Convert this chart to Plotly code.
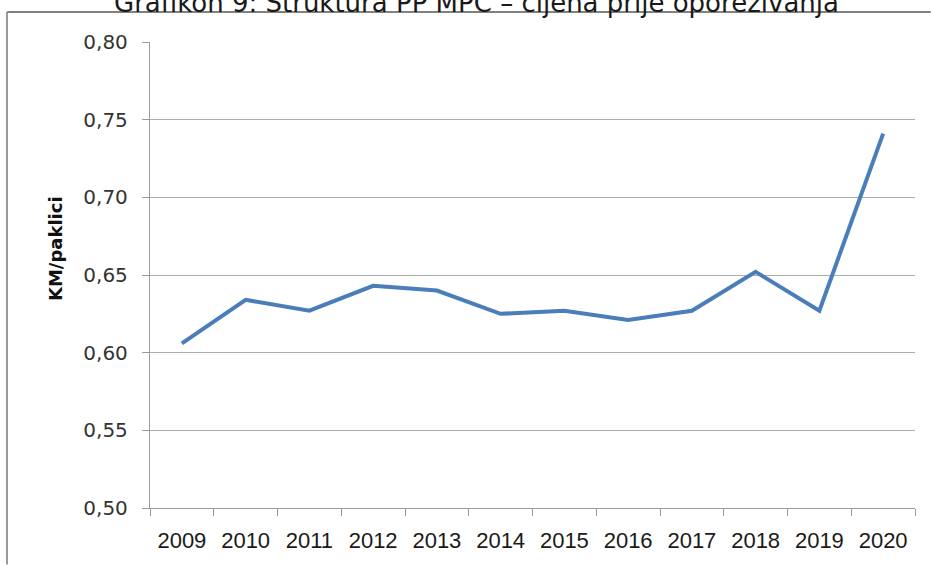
import plotly.graph_objects as go

years = ["2009", "2010", "2011", "2012", "2013", "2014", "2015", "2016", "2017", "2018", "2019", "2020"]
values = [0.606, 0.634, 0.627, 0.643, 0.640, 0.625, 0.627, 0.621, 0.627, 0.652, 0.627, 0.741]
y_ticks = [0.50, 0.55, 0.60, 0.65, 0.70, 0.75, 0.80]
title_text = "Grafikon 9: Struktura PP MPC – cijena prije oporezivanja"
y_title = "KM/paklici"

W, H = 933, 566
L, R, T, B = 150, 18, 42, 58
pw, ph = W - L - R, H - T - B

def px_x(x):
    return (x - L) / pw

def px_y(y):
    return (H - B - y) / ph

fig = go.Figure()
fig.add_trace(go.Scatter(
    x=years, y=values, mode="lines",
    line=dict(color="#4a7ebb", width=4),
    hoverinfo="x+y",
))

frame = dict(text="", xref="paper", yref="paper", showarrow=True, arrowhead=0,
             arrowwidth=1.5, arrowcolor="#7a7a7a", standoff=0, startstandoff=0,
             axref="pixel", ayref="pixel")

fig.update_layout(
    width=W, height=H,
    margin=dict(l=L, r=R, t=T, b=B, pad=0, autoexpand=False),
    paper_bgcolor="white", plot_bgcolor="white",
    separators=", ",
    showlegend=False,
    xaxis=dict(
        type="category",
        automargin=False,
        showgrid=False,
        showline=True, linecolor="#9a9a9a", linewidth=1.3,
        ticks="outside", tickson="boundaries", ticklen=7, tickcolor="#9a9a9a", tickwidth=1.3,
        tickangle=0,
        tickfont=dict(family="Liberation Sans, Arial, sans-serif", size=22, color="#1a1a1a"),
        ticklabelstandoff=12,
        range=[-0.5, 11.5],
    ),
    yaxis=dict(
        automargin=False,
        range=[0.5, 0.8],
        tickvals=y_ticks,
        tickformat=".2f",
        showgrid=True, gridcolor="#adadad", gridwidth=1.3,
        showline=True, linecolor="#9a9a9a", linewidth=1.3,
        ticks="outside", ticklen=7, tickcolor="#9a9a9a", tickwidth=1.3,
        tickfont=dict(family="DejaVu Sans, Verdana, sans-serif", size=20, color="#333333"),
        ticklabelstandoff=10,
        zeroline=False,
    ),
    annotations=[
        dict(frame, x=px_x(7), y=px_y(12), ax=0, ay=H),
        dict(frame, x=px_x(W - 2), y=px_y(12), ax=-(W - 9), ay=0),
        dict(
            text=title_text, xref="paper", yref="paper",
            x=px_x(476), y=px_y(20), xanchor="center", yanchor="bottom",
            showarrow=False,
            font=dict(family="DejaVu Sans, Verdana, sans-serif", size=26, color="#1a1a1a"),
        ),
        dict(
            text="<b>" + y_title + "</b>", xref="paper", yref="paper",
            x=px_x(55), y=px_y(249), xanchor="center", yanchor="middle",
            textangle=-90, showarrow=False,
            font=dict(family="DejaVu Sans, Verdana, sans-serif", size=18, color="#111111"),
        ),
    ],
    shapes=[
        dict(type="line", xref="paper", yref="paper", x0=px_x(7), x1=px_x(W - 3),
             y0=px_y(12), y1=px_y(12), line=dict(color="#7a7a7a", width=1.6)),
    ],
)

fig.write_html("out.html", config={"displayModeBar": False},
               post_script="document.body.style.margin='0';")
